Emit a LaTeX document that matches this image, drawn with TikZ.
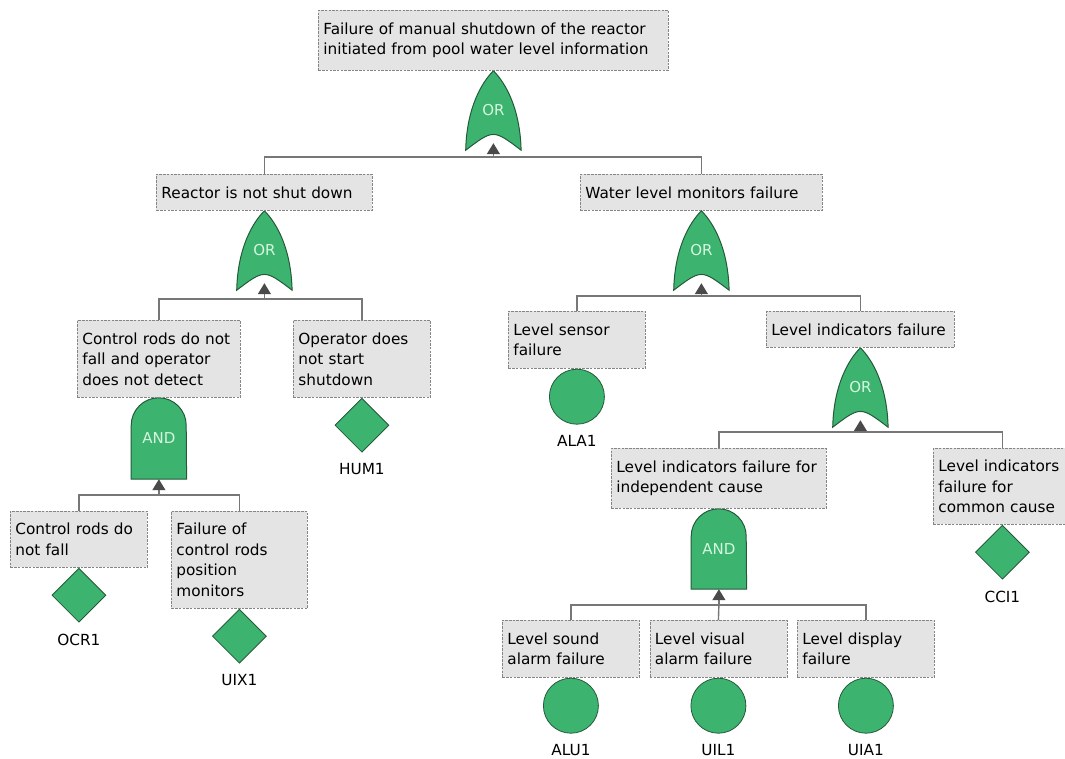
\documentclass[tikz,border=0pt]{standalone}
\usepackage{fontspec}
\setmainfont{DejaVu Sans}
\usetikzlibrary{arrows.meta,positioning,shapes.geometric,backgrounds}
\definecolor{boxgray}{HTML}{E4E4E4}
\definecolor{boxline}{HTML}{858585}
\definecolor{gategreen}{HTML}{3DB370}
\definecolor{gateedge}{HTML}{245A3A}
\definecolor{gatelabel}{HTML}{D4F7DE}
\definecolor{wiregray}{HTML}{777777}
\definecolor{tipgray}{HTML}{4A4A4A}
\tikzstyle{event}=[
	rectangle,
	draw=boxline,
	fill=boxgray,
	line width=0.8pt,
	dash pattern=on 2.5pt off 1.2pt,
	align=left,
	anchor=north west,
	inner xsep=5pt,
	inner ysep=0pt,
	font=\fontsize{15.3}{20.5}\selectfont
]
\tikzstyle{gate}=[
	rectangle,
	minimum width=55pt,
	minimum height=79pt,
	inner sep=0pt,
	text=gatelabel,
	font=\fontsize{15}{15}\selectfont
]
\tikzstyle{gateshape}=[
	fill=gategreen,
	draw=gateedge,
	line width=1pt
]
\tikzstyle{basic}=[
	circle,
	minimum size=55pt,
	inner sep=0pt,
	fill=gategreen,
	draw=gateedge,
	line width=0.8pt
]
\tikzstyle{undeveloped}=[
	diamond,
	minimum size=54pt,
	inner sep=0pt,
	fill=gategreen,
	draw=gateedge,
	line width=0.8pt
]
\tikzstyle{tag}=[
	inner sep=0pt,
	font=\fontsize{15.3}{18}\selectfont
]
\tikzstyle{wire}=[
	draw=wiregray,
	line width=1.4pt
]
\tikzstyle{feed}=[
	wire,
	-{Triangle[width=13pt,length=11pt,color=tipgray]}
]
% gate outlines, drawn behind the gate label
\newcommand{\orshape}[1]{%
	\begin{scope}[on background layer]
	\path[gateshape] (#1.south west)
		.. controls ([shift={(1,-42)}]#1.south west) and ([shift={(-12,12)}]#1.north) .. (#1.north)
		.. controls ([shift={(12,12)}]#1.north) and ([shift={(-1,-42)}]#1.south east) .. (#1.south east)
		.. controls ([shift={(0,-21)}]#1.south) .. (#1.south west) -- cycle;
	\end{scope}}
\newcommand{\andshape}[1]{%
	\begin{scope}[on background layer]
	\path[gateshape] (#1.south west) -- ([yshift=-27.5pt]#1.north west)
		arc[start angle=180, end angle=0, radius=27.5pt] -- (#1.south east) -- cycle;
	\end{scope}}

\begin{document}
\begin{tikzpicture}[x=1pt, y=-1pt]
\useasboundingbox (0,0) rectangle (1065,758);

% events
\node [event, text width=340pt, minimum height=60pt] (TopEvent) at (318,10)
	{Failure of manual shutdown of the reactor\\initiated from pool water level information};
\node [event, text width=206pt, minimum height=36pt] (NotShutDown) at (156,174) {Reactor is not shut down};
\node [event, text width=232pt, minimum height=36pt] (LevelMonitors) at (580,174) {Water level monitors failure};
\node [event, text width=153pt, minimum height=77pt] (RodsNoDetect) at (77,320)
	{Control rods do not\\fall and operator\\does not detect};
\node [event, text width=127pt, minimum height=77pt] (OperatorNoStart) at (293,320)
	{Operator does\\not start\\shutdown};
\node [event, text width=127pt, minimum height=57pt] (SensorFail) at (508,311) {Level sensor\\failure};
\node [event, text width=178pt, minimum height=36pt] (IndicFail) at (766,311) {Level indicators failure};
\node [event, text width=205pt, minimum height=60pt] (IndicIndep) at (611,448)
	{Level indicators failure for\\independent cause};
\node [event, text width=128pt, minimum height=76pt] (IndicCommon) at (933,448)
	{Level indicators\\failure for\\common cause};
\node [event, text width=127pt, minimum height=56pt] (RodsNoFall) at (10,511) {Control rods do\\not fall};
\node [event, text width=126pt, minimum height=97pt] (PosMonitors) at (171,511)
	{Failure of\\control rods\\position\\monitors};
\node [event, text width=127pt, minimum height=57pt] (SoundAlarm) at (502,620) {Level sound\\alarm failure};
\node [event, text width=127pt, minimum height=57pt] (VisualAlarm) at (649.5,620) {Level visual\\alarm failure};
\node [event, text width=127pt, minimum height=57pt] (DisplayFail) at (797,620) {Level display\\failure};

% gates
\node [gate] (OrTop) [below=0pt of TopEvent] {OR};
\node [gate] (OrReactor) [below=0pt of NotShutDown] {OR};
\node [gate] (OrMonitors) [below=0pt of LevelMonitors] {OR};
\node [gate] (OrIndic) [below=0pt of IndicFail] {OR};
\node [gate, minimum height=81pt] (AndRods) [below=0pt of RodsNoDetect] {AND};
\node [gate, minimum height=80pt] (AndIndep) [below=0pt of IndicIndep] {AND};
\orshape{OrTop}
\orshape{OrReactor}
\orshape{OrMonitors}
\orshape{OrIndic}
\andshape{AndRods}
\andshape{AndIndep}

% basic and undeveloped events
\node [undeveloped] (OCR1) [below=0pt of RodsNoFall] {};
\node [undeveloped] (UIX1) [below=0pt of PosMonitors] {};
\node [undeveloped] (HUM1) [below=0pt of OperatorNoStart] {};
\node [undeveloped] (CCI1) [below=0pt of IndicCommon] {};
\node [basic] (ALA1) [below=0pt of SensorFail] {};
\node [basic] (ALU1) [below=0pt of SoundAlarm] {};
\node [basic] (UIL1) [below=0pt of VisualAlarm] {};
\node [basic] (UIA1) [below=0pt of DisplayFail] {};
\node [tag] (OCR1tag) [below=11pt of OCR1] {OCR1};
\node [tag] (UIX1tag) [below=11pt of UIX1] {UIX1};
\node [tag] (HUM1tag) [below=11pt of HUM1] {HUM1};
\node [tag] (CCI1tag) [below=11pt of CCI1] {CCI1};
\node [tag] (ALA1tag) [below=11pt of ALA1] {ALA1};
\node [tag] (ALU1tag) [below=11pt of ALU1] {ALU1};
\node [tag] (UIL1tag) [below=11pt of UIL1] {UIL1};
\node [tag] (UIA1tag) [below=11pt of UIA1] {UIA1};

% connectors
\coordinate (JoinTop) at (OrTop.south |- 0,157);
\coordinate (JoinReactor) at (OrReactor.south |- 0,299);
\coordinate (JoinMonitors) at (OrMonitors.south |- 0,296);
\coordinate (JoinIndic) at (OrIndic.south |- 0,432);
\coordinate (JoinRods) at (AndRods.south |- 0,495);
\coordinate (JoinIndep) at (AndIndep.south |- 0,605);
\draw [wire] (NotShutDown.north) |- (JoinTop) -| (LevelMonitors.north);
\draw [wire] (RodsNoDetect.north) |- (JoinReactor) -| (OperatorNoStart.north);
\draw [wire] (SensorFail.north) |- (JoinMonitors) -| (IndicFail.north);
\draw [wire] (IndicIndep.north) |- (JoinIndic) -| (IndicCommon.north);
\draw [wire] (RodsNoFall.north) |- (JoinRods) -| (PosMonitors.north);
\draw [wire] (SoundAlarm.north) |- (JoinIndep) -| (DisplayFail.north);
\draw [wire] (VisualAlarm.north) -- (JoinIndep);
\draw [feed] (JoinTop) -- ([yshift=7pt]OrTop.south);
\draw [feed] (JoinReactor) -- ([yshift=7pt]OrReactor.south);
\draw [feed] (JoinMonitors) -- ([yshift=7pt]OrMonitors.south);
\draw [feed] (JoinIndic) -- ([yshift=7pt]OrIndic.south);
\draw [feed] (JoinRods) -- (AndRods.south);
\draw [feed] (JoinIndep) -- (AndIndep.south);
\end{tikzpicture}
\end{document}
